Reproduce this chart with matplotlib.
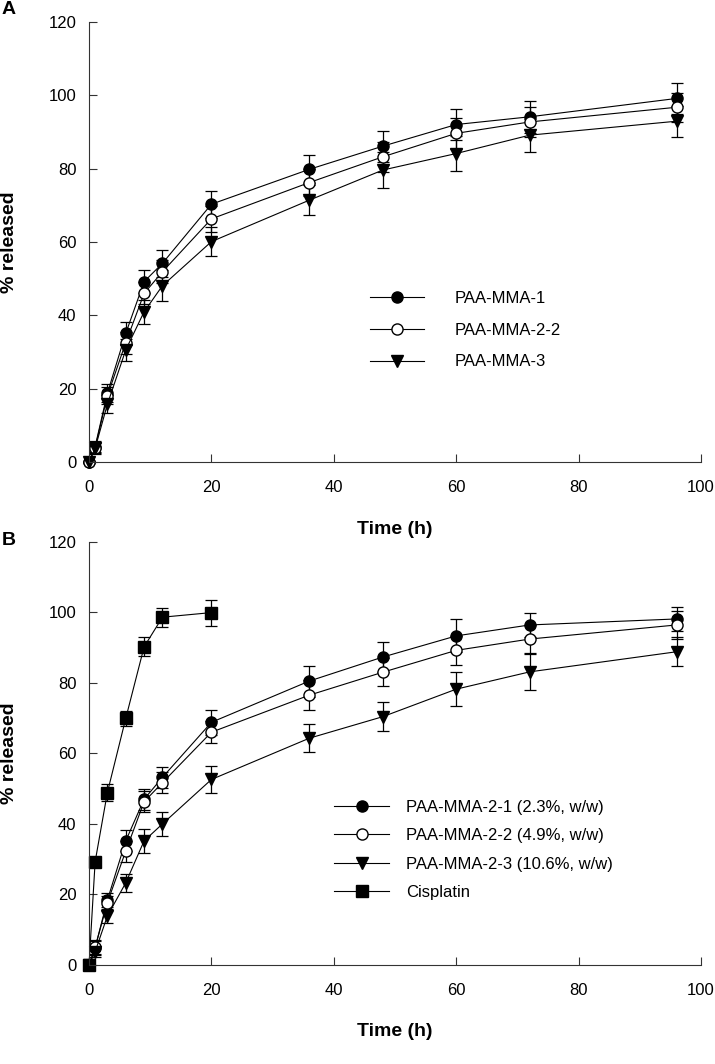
import matplotlib
matplotlib.use("Agg")
import matplotlib.pyplot as plt
from matplotlib.lines import Line2D

plt.rcParams['font.family'] = ['Liberation Sans', 'DejaVu Sans']

# panel A data
t = [0, 1, 3, 6, 9, 12, 20, 36, 48, 60, 72, 96]
a_mma1 = [0, 4.3, 18.8, 35.1, 49.2, 54.2, 70.3, 79.8, 86.1, 92.0, 94.1, 99.1]
a_mma1_err = [0, 1.6, 2.5, 3.2, 3.2, 3.6, 3.7, 3.8, 4.2, 4.3, 4.3, 4.3]
a_mma22 = [0, 4.0, 18.1, 32.6, 46.0, 51.9, 66.3, 76.2, 83.2, 89.6, 92.7, 96.7]
a_mma22_err = [0, 1.5, 2.3, 3.0, 3.0, 3.2, 3.5, 3.8, 4.0, 4.2, 4.0, 4.0]
a_mma3 = [0, 3.8, 15.8, 30.6, 41.0, 48.1, 60.1, 71.4, 79.6, 84.1, 89.1, 92.9]
a_mma3_err = [0, 1.5, 2.5, 3.0, 3.3, 4.2, 4.0, 4.0, 5.0, 4.8, 4.5, 4.2]

# panel B data
tc = [0, 1, 3, 6, 9, 12, 20]
cis = [0, 29.3, 48.9, 69.9, 90.2, 98.6, 99.9]
cis_err = [0, 1.0, 2.4, 2.2, 2.7, 2.7, 3.7]
b_21 = [0, 4.9, 18.4, 35.2, 47.0, 53.2, 68.8, 80.5, 87.3, 93.3, 96.4, 98.1]
b_21_err = [0, 2.0, 2.0, 3.0, 3.0, 3.0, 3.5, 4.4, 4.3, 4.7, 3.5, 3.3]
b_22 = [0, 5.0, 17.7, 32.3, 46.3, 51.7, 66.0, 76.5, 83.0, 89.2, 92.4, 96.4]
b_22_err = [0, 2.0, 2.0, 3.0, 3.0, 3.0, 3.2, 4.2, 3.9, 4.2, 4.0, 4.0]
b_23 = [0, 3.8, 13.9, 23.3, 35.2, 40.0, 52.6, 64.3, 70.4, 78.2, 83.1, 88.8]
b_23_err = [0, 1.5, 2.0, 2.6, 3.4, 3.3, 3.7, 3.9, 4.1, 4.8, 5.2, 4.1]

labels_a = ['PAA-MMA-1', 'PAA-MMA-2-2', 'PAA-MMA-3']
labels_b = ['PAA-MMA-2-1 (2.3%, w/w)', 'PAA-MMA-2-2 (4.9%, w/w)',
            'PAA-MMA-2-3 (10.6%, w/w)', 'Cisplatin']

fig = plt.figure(figsize=(7.15, 10.64), dpi=100)
axA = fig.add_axes([0.1245, 0.5655, 0.856, 0.4141])
axB = fig.add_axes([0.1245, 0.0930, 0.856, 0.3979])

sty = dict(color='black', lw=0.8, ms=8, capsize=4.5, elinewidth=0.9,
           capthick=0.9, clip_on=False, markeredgecolor='black')

def series(ax, x, y, e, mk, face, lab):
    h = ax.errorbar(x, y, yerr=e, marker=mk, markerfacecolor=face, **sty)
    for art in h.lines[1] + h.lines[2]:
        art.set_clip_on(False)
    return Line2D([], [], color='black', lw=0.8, marker=mk, ms=8,
                  markerfacecolor=face, markeredgecolor='black', label=lab)

hA = [series(axA, t, a_mma1, a_mma1_err, 'o', 'black', labels_a[0]),
      series(axA, t, a_mma22, a_mma22_err, 'o', 'white', labels_a[1]),
      series(axA, t, a_mma3, a_mma3_err, 'v', 'black', labels_a[2])]

hB = [series(axB, t, b_21, b_21_err, 'o', 'black', labels_b[0]),
      series(axB, t, b_22, b_22_err, 'o', 'white', labels_b[1]),
      series(axB, t, b_23, b_23_err, 'v', 'black', labels_b[2]),
      series(axB, tc, cis, cis_err, 's', 'black', labels_b[3])]

for ax in (axA, axB):
    ax.set_xlim(0, 100)
    ax.set_ylim(0, 120)
    ax.set_xticks(range(0, 101, 20))
    ax.set_yticks(range(0, 121, 20))
    ax.spines['top'].set_visible(False)
    ax.spines['right'].set_visible(False)
    for s in ('left', 'bottom'):
        ax.spines[s].set_linewidth(0.8)
        ax.spines[s].set_color('#333333')
    ax.tick_params(direction='in', length=6, width=0.8, labelsize=12,
                   colors='#333333', labelcolor='black')
    ax.tick_params(axis='x', pad=13)
    ax.tick_params(axis='y', pad=9)

fig.legend(handles=hA, loc='upper left', bbox_to_anchor=(370 / 715, 1 - 291 / 1064),
           frameon=False, fontsize=12, handlelength=3.25, handletextpad=1.8,
           labelspacing=1.0, borderpad=0, borderaxespad=0)
fig.legend(handles=hB, loc='upper left', bbox_to_anchor=(334 / 715, 1 - 800 / 1064),
           frameon=False, fontsize=12, handlelength=3.3, handletextpad=1.05,
           labelspacing=0.8, borderpad=0, borderaxespad=0)

fig.text(0.5525, 1 - 530 / 1064, 'Time (h)', ha='center', va='center',
         fontsize=14, fontweight='bold')
fig.text(0.5525, 1 - 1032 / 1064, 'Time (h)', ha='center', va='center',
         fontsize=14, fontweight='bold')
fig.text(10 / 715, 1 - 242 / 1064, '% released', ha='center', va='center',
         rotation=90, fontsize=14, fontweight='bold')
fig.text(10 / 715, 1 - 753 / 1064, '% released', ha='center', va='center',
         rotation=90, fontsize=14, fontweight='bold')
fig.text(2 / 715, 1 - 10 / 1064, 'A', ha='left', va='center',
         fontsize=14, fontweight='bold')
fig.text(2 / 715, 1 - 540 / 1064, 'B', ha='left', va='center',
         fontsize=14, fontweight='bold')

fig.savefig('out.png', dpi=100)
